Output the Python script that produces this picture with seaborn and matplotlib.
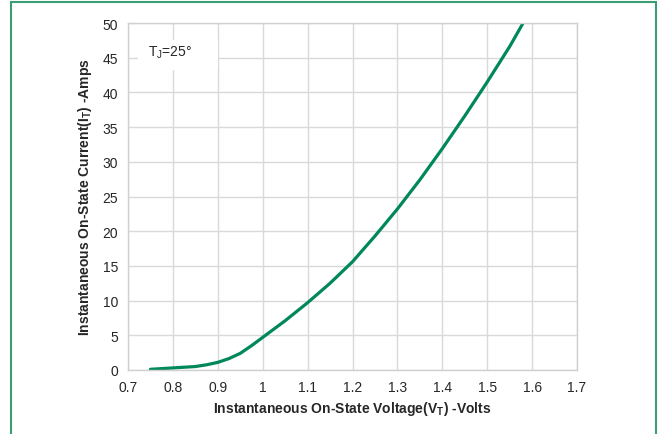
import matplotlib
matplotlib.use("Agg")
import matplotlib.pyplot as plt
import seaborn as sns
import pandas as pd
from matplotlib.patches import Rectangle

# on-state voltage (V) vs current (A)
voltage = [0.75, 0.80, 0.85, 0.875, 0.90, 0.925, 0.95, 0.975, 1.00, 1.05,
           1.10, 1.15, 1.20, 1.25, 1.30, 1.35, 1.40, 1.45, 1.50, 1.55, 1.58]
current = [0.1, 0.3, 0.5, 0.75, 1.1, 1.65, 2.4, 3.5, 4.7, 7.1,
           9.7, 12.5, 15.6, 19.3, 23.2, 27.4, 31.9, 36.6, 41.5, 46.6, 50.0]
x_ticks = [0.7, 0.8, 0.9, 1.0, 1.1, 1.2, 1.3, 1.4, 1.5, 1.6, 1.7]
x_tick_labels = ["0.7", "0.8", "0.9", "1", "1.1", "1.2", "1.3", "1.4", "1.5", "1.6", "1.7"]
y_ticks = [0, 5, 10, 15, 20, 25, 30, 35, 40, 45, 50]

df = pd.DataFrame({"V": voltage, "I": current})

sns.set_style("white")
plt.rcParams["font.family"] = ["Liberation Sans", "DejaVu Sans"]
plt.rcParams["mathtext.default"] = "regular"

fig = plt.figure(figsize=(6.6, 4.35), dpi=100)
ax = fig.add_axes([128 / 660, 64 / 435, 449 / 660, 347 / 435])

sns.lineplot(data=df, x="V", y="I", ax=ax, color="#00875a", linewidth=2.3)

ax.set_xlim(0.7, 1.7)
ax.set_ylim(0, 50)
ax.set_xticks(x_ticks)
ax.set_xticklabels(x_tick_labels)
ax.set_yticks(y_ticks)
ax.grid(True, color="#d9d9d9", linewidth=1)
ax.set_axisbelow(True)
for s in ax.spines.values():
    s.set_color("#d0d0d0")
    s.set_linewidth(1)
ax.tick_params(axis="both", labelsize=10, colors="#262626", length=4,
               color="#d0d0d0", width=1, pad=3)

ax.set_xlabel("Instantaneous On-State Voltage(V$_{T}$) -Volts",
              fontsize=10, fontweight="bold", labelpad=4, color="#262626")
ax.set_ylabel("Instantaneous On-State Current(I$_{T}$) -Amps",
              fontsize=10, fontweight="bold", labelpad=6, color="#262626")

# white text box for the junction temperature note
ax.add_patch(Rectangle((0.723, 43.2), 0.177, 4.4, facecolor="white",
                       edgecolor="none", zorder=1.5))
ax.text(0.744, 45.8, "T$_{J}$=25°", fontsize=10, color="#262626",
        va="center", zorder=3)

# green frame around the whole figure
fig.patches.append(Rectangle((11 / 660, -0.05), 645 / 660, 1.05 - 3 / 435,
                             transform=fig.transFigure, fill=False,
                             edgecolor="#3a9e72", linewidth=1.5))

fig.savefig("out.png", dpi=100)
